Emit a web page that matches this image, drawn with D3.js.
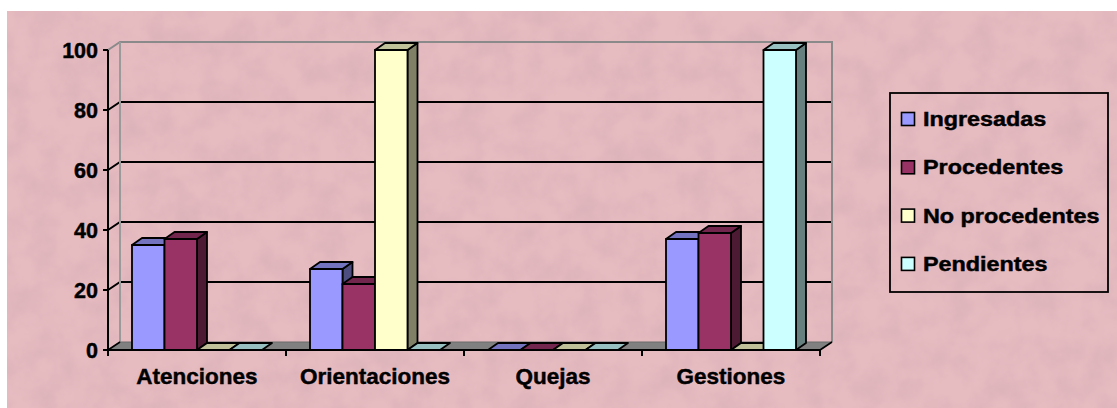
<!DOCTYPE html>
<html>
<head>
<meta charset="utf-8">
<script src="https://cdn.jsdelivr.net/npm/d3@7"></script>
<style>
  html, body { margin: 0; padding: 0; background: #ffffff; }
  svg { display: block; }
  text { font-family: "Liberation Sans", Arial, sans-serif; font-weight: bold; fill: #000; stroke: #000; stroke-width: 0.45px; }
</style>
</head>
<body>
<svg id="chart" width="1117" height="408"></svg>
<script>
// ---- data ----
const categories = ["Atenciones", "Orientaciones", "Quejas", "Gestiones"];
const seriesNames = ["Ingresadas", "Procedentes", "No procedentes", "Pendientes"];
const ingresadas    = [35, 27, 0, 37];
const procedentes   = [37, 22, 0, 39];
const noProcedentes = [0, 100, 0, 0];
const pendientes    = [0, 0, 0, 100];
const yTicks = [0, 20, 40, 60, 80, 100];

const seriesValues = [ingresadas, procedentes, noProcedentes, pendientes];
const front = ["#9999FF", "#993366", "#FFFFCC", "#CCFFFF"];
const topC  = ["#7373c0", "#73264d", "#c0c099", "#99c0c0"];
const sideC = ["#4d4d80", "#4d1a33", "#808066", "#668080"];

const svg = d3.select("#chart");

// background with mottled texture
const defs = svg.append("defs");
const f = defs.append("filter").attr("id", "tex").attr("x", 0).attr("y", 0).attr("width", "100%").attr("height", "100%");
f.append("feTurbulence").attr("type", "fractalNoise").attr("baseFrequency", "0.035").attr("numOctaves", 4).attr("seed", 7).attr("result", "n");
f.append("feColorMatrix").attr("in", "n").attr("type", "matrix")
  .attr("values", "0 0 0 0 0.55  0 0 0 0 0.35  0 0 0 0 0.40  0 0 0 0.55 -0.18");
svg.append("rect").attr("x", 7).attr("y", 11).attr("width", 1110).attr("height", 397).attr("fill", "#e7bcc1");
svg.append("rect").attr("x", 7).attr("y", 11).attr("width", 1110).attr("height", 397).attr("fill", "#fff").attr("filter", "url(#tex)");

// ---- scales ----
const plotL = 108, plotR = 820, base = 350, topY = 50;
const wdx = 12, wdy = -8;   // wall depth
const bdx = 10, bdy = -7;   // bar depth
const y = d3.scaleLinear().domain([0, 100]).range([base, topY]);
const x0 = d3.scaleBand().domain(categories).range([plotL, plotR]);
const x1 = d3.scaleBand().domain(seriesNames).range([24, x0.bandwidth() - 24]);

// gridlines (back wall + side wall diagonals)
const g = svg.append("g");
yTicks.filter(v => v > 0 && v < 100).forEach(v => {
  g.append("path")
    .attr("d", `M${plotL},${y(v)}L${plotL + wdx},${y(v) + wdy}L${plotR + wdx},${y(v) + wdy}`)
    .attr("fill", "none").attr("stroke", "#000").attr("stroke-width", 2);
});
// wall outline (gray)
g.append("path")
  .attr("d", `M${plotL},${y(100)}L${plotL + wdx},${y(100) + wdy}L${plotR + wdx},${y(100) + wdy}L${plotR + wdx},${base + wdy}`)
  .attr("fill", "none").attr("stroke", "#8a8a8a").attr("stroke-width", 2);
g.append("line").attr("x1", plotL + wdx).attr("x2", plotL + wdx).attr("y1", y(100) + wdy).attr("y2", base + wdy)
  .attr("stroke", "#9a9a9a").attr("stroke-width", 2);

// floor
g.append("path")
  .attr("d", `M${plotL},${base}L${plotR},${base}L${plotR + wdx},${base + wdy}L${plotL + wdx},${base + wdy}Z`)
  .attr("fill", "#808080").attr("stroke", "#6a6a6a").attr("stroke-width", 1);
g.append("line").attr("x1", plotL).attr("y1", base).attr("x2", plotL + wdx).attr("y2", base + wdy)
  .attr("stroke", "#000").attr("stroke-width", 1.6);

// bars
const bars = svg.append("g").attr("stroke", "#000").attr("stroke-width", 1.8).attr("stroke-linejoin", "round");
categories.forEach((c, ci) => {
  seriesNames.forEach((s, si) => {
    const v = seriesValues[si][ci];
    const x = x0(c) + x1(s), w = x1.bandwidth(), t = y(v);
    if (v > 0) {
      bars.append("path")
        .attr("d", `M${x + w},${t}L${x + w + bdx},${t + bdy}L${x + w + bdx},${base + bdy}L${x + w},${base}Z`)
        .attr("fill", sideC[si]);
      bars.append("rect").attr("x", x).attr("y", t).attr("width", w).attr("height", base - t).attr("fill", front[si]);
    }
    bars.append("path")
      .attr("d", `M${x},${t}L${x + bdx},${t + bdy}L${x + w + bdx},${t + bdy}L${x + w},${t}Z`)
      .attr("fill", topC[si]);
  });
});

// axes
const ax = svg.append("g").attr("stroke", "#000").attr("stroke-width", 2);
ax.append("line").attr("x1", plotL).attr("x2", plotL).attr("y1", y(100)).attr("y2", base + 6);
ax.append("line").attr("x1", plotL).attr("x2", plotR).attr("y1", base).attr("y2", base);
ax.append("line").attr("x1", plotR).attr("x2", plotR + wdx).attr("y1", base).attr("y2", base + wdy).attr("stroke-width", 1.6);
yTicks.forEach(v => {
  ax.append("line").attr("x1", plotL - 5).attr("x2", plotL).attr("y1", y(v)).attr("y2", y(v));
});
categories.forEach(c => {
  const xe = x0(c) + x0.bandwidth();
  ax.append("line").attr("x1", xe).attr("x2", xe).attr("y1", base).attr("y2", base + 6);
});

// y labels
svg.append("g").selectAll("text").data(yTicks).join("text")
  .attr("x", 98).attr("y", d => y(d) + 7.5)
  .attr("text-anchor", "end").attr("font-size", 21.5).text(d => d);

// category labels
svg.append("g").selectAll("text").data(categories).join("text")
  .attr("x", d => x0(d) + x0.bandwidth() / 2).attr("y", 384)
  .attr("text-anchor", "middle").attr("font-size", 22.5).text(d => d);

// legend
const lg = svg.append("g");
lg.append("rect").attr("x", 890).attr("y", 93).attr("width", 218).attr("height", 199)
  .attr("fill", "none").attr("stroke", "#000").attr("stroke-width", 1.8);
seriesNames.forEach((s, i) => {
  const by = 126 + i * 48.3;
  lg.append("rect").attr("x", 901.5).attr("y", by - 13.5).attr("width", 13).attr("height", 13)
    .attr("fill", front[i]).attr("stroke", "#000").attr("stroke-width", 1.6);
  lg.append("text").attr("transform", `translate(923,${by}) scale(1.18,1)`)
    .attr("font-size", 19.8).text(s);
});
</script>
</body>
</html>
